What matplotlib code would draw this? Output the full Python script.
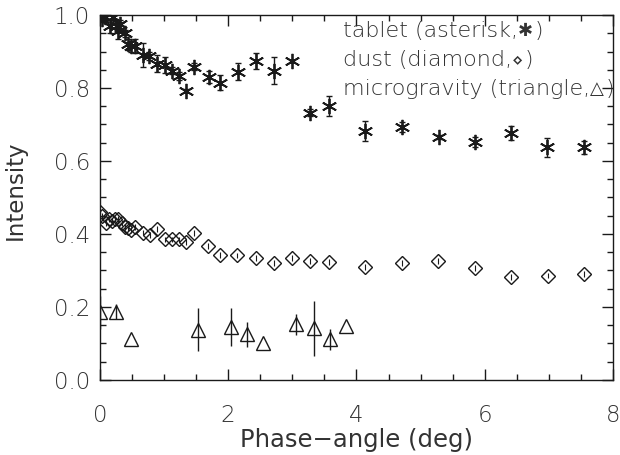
import numpy as np
import matplotlib
matplotlib.use('Agg')
import matplotlib.pyplot as plt
from matplotlib.ticker import MultipleLocator, FormatStrFormatter

# tablet (asterisk)
tablet_x = [0.03, 0.08, 0.16, 0.21, 0.27, 0.29, 0.32, 0.39, 0.44, 0.49, 0.55,
            0.67, 0.77, 0.89, 1.01, 1.13, 1.24, 1.35, 1.46, 1.70, 1.87, 2.15,
            2.43, 2.72, 3.00, 3.28, 3.57, 4.14, 4.71, 5.29, 5.84, 6.41, 6.97, 7.54]
tablet_y = [0.99, 0.995, 0.97, 0.995, 0.97, 0.955, 0.975, 0.95, 0.92, 0.915, 0.915,
            0.89, 0.888, 0.867, 0.863, 0.847, 0.833, 0.793, 0.858, 0.831, 0.815, 0.845,
            0.874, 0.847, 0.875, 0.732, 0.751, 0.683, 0.694, 0.665, 0.653, 0.676, 0.637, 0.637]
tablet_err = [0.01, 0.01, 0.02, 0.01, 0.015, 0.02, 0.01, 0.01, 0.015, 0.015, 0.02,
              0.032, 0.01, 0.024, 0.023, 0.01, 0.01, 0.005, 0.01, 0.016, 0.021, 0.024,
              0.023, 0.037, 0.003, 0.01, 0.027, 0.027, 0.014, 0.005, 0.014, 0.019, 0.026, 0.017]

# dust (diamond)
dust_x = [0.01, 0.04, 0.09, 0.14, 0.19, 0.24, 0.29, 0.34, 0.39, 0.44, 0.49, 0.55,
          0.67, 0.78, 0.89, 1.01, 1.12, 1.24, 1.35, 1.46, 1.69, 1.87, 2.14, 2.43,
          2.71, 3.00, 3.28, 3.57, 4.14, 4.71, 5.27, 5.84, 6.41, 6.98, 7.54]
dust_y = [0.459, 0.449, 0.431, 0.44, 0.435, 0.44, 0.44, 0.43, 0.42, 0.415, 0.41, 0.42,
          0.404, 0.397, 0.414, 0.385, 0.385, 0.385, 0.379, 0.402, 0.368, 0.342, 0.341, 0.333,
          0.321, 0.333, 0.326, 0.324, 0.309, 0.321, 0.327, 0.306, 0.283, 0.286, 0.290]
dust_err = [0.008] * len(dust_x)

# microgravity (triangle)
micro_x = [0.0, 0.25, 0.49, 1.53, 2.04, 2.30, 2.55, 3.06, 3.33, 3.58, 3.84]
micro_y = [0.185, 0.187, 0.111, 0.138, 0.146, 0.125, 0.100, 0.152, 0.141, 0.111, 0.148]
micro_err = [0.045, 0.02, 0.0, 0.06, 0.052, 0.035, 0.0, 0.03, 0.076, 0.029, 0.0]

legend_labels = ['tablet (asterisk,', 'dust (diamond,', 'microgravity (triangle,']
legend_syms = ['\u2731', '\u22c4', '\u25b3']

plt.rcParams['font.family'] = ['DejaVu Sans']
plt.rcParams['font.weight'] = 'light'

fig = plt.figure(figsize=(6.2, 4.55), dpi=100)
ax = fig.add_axes([0.161, 0.165, 0.828, 0.802])

ink = '#1a1a1a'
txt = '#333333'
ax.errorbar(tablet_x, tablet_y, yerr=tablet_err, fmt='none', ecolor=ink,
            elinewidth=1.0, capsize=2.5, capthick=1.0)
ax.plot(tablet_x, tablet_y, linestyle='none', marker=(6, 2, 0), markersize=11,
        markeredgecolor=ink, markeredgewidth=1.3)

ax.errorbar(dust_x, dust_y, yerr=dust_err, fmt='none', ecolor=ink, elinewidth=0.8)
ax.plot(dust_x, dust_y, linestyle='none', marker='D', markersize=7,
        markerfacecolor='none', markeredgecolor=ink, markeredgewidth=1.0)

ax.errorbar(micro_x, micro_y, yerr=micro_err, fmt='none', ecolor=ink, elinewidth=1.0)
ax.plot(micro_x, micro_y, linestyle='none', marker='^', markersize=9.5,
        markerfacecolor='none', markeredgecolor=ink, markeredgewidth=1.0)

ax.set_xlim(0, 8)
ax.set_ylim(0, 1.0)
ax.xaxis.set_major_locator(MultipleLocator(2))
ax.xaxis.set_minor_locator(MultipleLocator(0.5))
ax.yaxis.set_major_locator(MultipleLocator(0.2))
ax.yaxis.set_minor_locator(MultipleLocator(0.05))
ax.yaxis.set_major_formatter(FormatStrFormatter('%.1f'))
ax.tick_params(which='both', direction='in', top=True, right=True, color=ink)
ax.tick_params(which='major', length=8, width=1.0, labelsize=16.5, labelcolor=txt)
ax.tick_params(axis='x', which='major', pad=17)
ax.tick_params(axis='y', which='major', pad=7)
ax.tick_params(which='minor', length=4, width=1.0)
for s in ax.spines.values():
    s.set_color(ink)
    s.set_linewidth(1.0)

ax.set_xlabel('Phase\u2212angle (deg)', fontsize=17.5, color=txt, labelpad=1)
ax.set_ylabel('Intensity', fontsize=16.5, color=txt)
ax.yaxis.set_label_coords(-0.142, 0.52)

# legend text: words in the light face, the symbol in the regular face
legend_y = [0.955, 0.877, 0.798]
for label, sym, ly in zip(legend_labels, legend_syms, legend_y):
    t = ax.text(3.79, ly, label, fontsize=16, color=txt, ha='left', va='center')
    s = ax.annotate(sym, xy=(1, 0.5), xycoords=t, fontsize=13, fontweight='normal',
                    color=txt, ha='left', va='center')
    ax.annotate(')', xy=(1, 0.5), xycoords=s, xytext=(1, 0), textcoords='offset points',
                fontsize=16, color=txt, ha='left', va='center')

fig.savefig('out.png', dpi=100)
